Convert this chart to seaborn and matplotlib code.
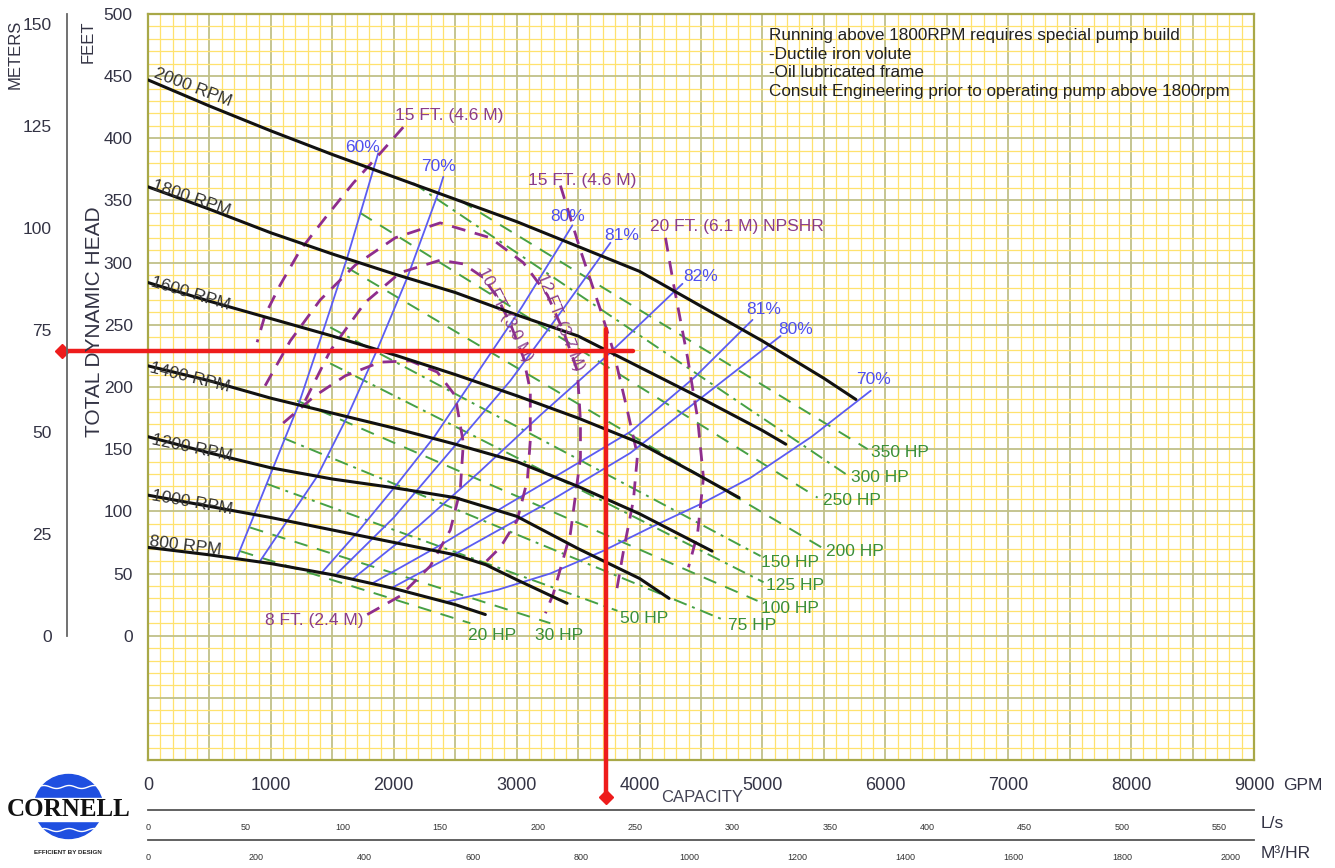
import numpy as np
import seaborn as sns
import matplotlib.pyplot as plt
from matplotlib.patches import Ellipse, Rectangle

# ---- values: flow in GPM, head in feet ----
speed_names = ['2000 RPM', '1800 RPM', '1600 RPM', '1400 RPM', '1200 RPM', '1000 RPM', '800 RPM']
q_2000 = [0, 500, 1000, 1500, 2000, 2500, 3000, 3500, 4000, 4500, 5000, 5500, 5760]
h_2000 = [447, 426, 406, 387, 369, 351, 333, 313, 293, 265, 237, 207, 190]
q_1800 = [0, 500, 1000, 1500, 2000, 2500, 3000, 3500, 4000, 4500, 5000, 5190]
h_1800 = [361, 343, 324, 307, 291, 276, 258, 241, 216, 191, 165, 154]
q_1600 = [0, 500, 1000, 1500, 2000, 2500, 3000, 3500, 4000, 4500, 4810]
h_1600 = [284, 269, 255, 241, 226, 210, 193, 175, 155, 128, 111]
q_1400 = [0, 500, 1000, 1500, 2000, 2500, 3000, 3500, 4000, 4590]
h_1400 = [217, 205, 191, 179, 167, 154, 140, 120, 98, 68]
q_1200 = [0, 500, 1000, 1500, 2000, 2500, 3000, 3500, 4000, 4240]
h_1200 = [160, 147, 135, 126, 119, 111, 96, 70, 46, 30]
q_1000 = [0, 500, 1000, 1500, 2000, 2500, 2750, 3000, 3410]
h_1000 = [113, 104, 95, 85, 75, 65, 57, 45, 26]
q_800 = [0, 500, 1000, 1500, 2000, 2500, 2745]
h_800 = [71, 65, 58, 49, 38, 25, 17]

# efficiency lines
eff_names = ['60%', '70%', '80%', '81%', '82%', '81%', '80%', '70%']
eff60_q = [725, 1018, 1222, 1425, 1621, 1873]
eff60_h = [63, 135, 185, 245, 304, 388]
eff70_q = [912, 1376, 1621, 1865, 2110, 2362, 2403]
eff70_h = [60, 128, 176, 230, 288, 356, 369]
eff80_q = [1417, 1720, 2028, 2330, 2623, 3040, 3453]
eff80_h = [51, 85, 122, 160, 203, 264, 330]
eff81_q = [1539, 2000, 2500, 2948, 3380, 3763]
eff81_h = [50, 95, 153, 205, 263, 316]
eff82_q = [1670, 2200, 2700, 3200, 3700, 4349]
eff82_h = [46, 88, 132, 178, 222, 283]
eff81r_q = [1824, 2400, 2900, 3400, 3926, 4450, 4919]
eff81r_h = [42, 74, 104, 133, 164, 208, 254]
eff80r_q = [1995, 2600, 3200, 3926, 4550, 5147]
eff80r_h = [39, 71, 104, 147, 195, 241]
eff70r_q = [2419, 2850, 3274, 3700, 4089, 4500, 4903, 5400, 5881]
eff70r_h = [27, 37, 50, 68, 87, 106, 127, 160, 197]

# NPSHR curves
npsh8_q = [1100, 1360, 1605, 1890, 2134, 2354, 2500, 2566, 2541, 2460, 2297, 2053, 1767]
npsh8_h = [171, 193, 209, 220, 221, 212, 193, 155, 117, 85, 56, 32, 16]
npsh10_q = [1279, 1482, 1767, 2053, 2378, 2566, 2729, 2843, 2948, 3054, 3111, 3111, 3087, 3005, 2867, 2704]
npsh10_h = [189, 229, 268, 292, 302, 299, 288, 272, 251, 224, 197, 157, 125, 93, 71, 55]
npsh12_q = [953, 1157, 1401, 1686, 2012, 2378, 2786, 3054, 3250, 3380, 3494, 3519, 3519, 3437, 3299, 3234]
npsh12_h = [201, 237, 270, 298, 320, 332, 320, 300, 274, 245, 213, 173, 143, 82, 34, 18]
npsh15a_q = [2077, 1890, 1670, 1442, 1238, 1075, 953, 888]
npsh15a_h = [409, 388, 364, 336, 310, 282, 258, 236]
npsh15b_q = [3356, 3519, 3682, 3787, 3901, 3983, 3950, 3869, 3804]
npsh15b_h = [362, 310, 262, 229, 181, 145, 109, 68, 31]
npsh20_q = [4211, 4276, 4390, 4472, 4520, 4472, 4398]
npsh20_h = [320, 283, 224, 175, 127, 82, 55]

# horsepower lines (start and end of each)
hp_names = ['20 HP', '30 HP', '50 HP', '75 HP', '100 HP', '125 HP', '150 HP',
            '200 HP', '250 HP', '300 HP', '350 HP']
hp_q0 = [749, 831, 969, 1100, 1214, 1482, 1482, 1621, 1727, 2158, 2541]
hp_h0 = [68, 87, 122, 159, 189, 219, 248, 296, 340, 364, 350]
hp_q1 = [2623, 3274, 3820, 4700, 4960, 5009, 4985, 5498, 5449, 5693, 5856]
hp_h1 = [10, 10, 20, 12, 28, 43, 64, 70, 111, 129, 150]

# duty point marked in red
duty_q = 3730
duty_h = 229

W, H = 1335, 868


def fx(px):
    return px / W


def fy(py):
    return 1 - py / H


sns.set_style('white')
plt.rcParams['font.family'] = ['Liberation Sans', 'DejaVu Sans']

fig = plt.figure(figsize=(W / 100, H / 100), dpi=100)
ax = fig.add_axes([fx(148), fy(760), (1254 - 148) / W, (760 - 14) / H])
ax.set_xlim(0, 9000)
ax.set_ylim(-100, 500)

# yellow graph paper
yellow = '#ffe26e'
olive = '#c0c088'
for q in range(100, 9000, 100):
    major = q % 500 == 0
    ax.axvline(q, color=olive if major else yellow, lw=1.3 if major else 0.9, zorder=0)
for hh in range(-90, 500, 10):
    major = hh % 50 == 0
    ax.axhline(hh, color=olive if major else yellow, lw=1.3 if major else 0.9, zorder=0)

for sp in ax.spines.values():
    sp.set_color('#a8a848')
    sp.set_linewidth(1.6)

ax.set_xticks(range(0, 9001, 1000))
ax.set_yticks(range(0, 501, 50))
ax.tick_params(axis='x', direction='out', length=7, width=1.3, color='#555555',
               labelsize=13, labelcolor='#333344', pad=5)
ax.tick_params(axis='y', direction='out', length=5, width=1.3, color='#555555',
               labelsize=12.5, labelcolor='#333344', pad=6)

# speed curves
speed_q = [q_2000, q_1800, q_1600, q_1400, q_1200, q_1000, q_800]
speed_h = [h_2000, h_1800, h_1600, h_1400, h_1200, h_1000, h_800]
for q, h in zip(speed_q, speed_h):
    sns.lineplot(x=q, y=h, ax=ax, color='#111111', lw=2.2, sort=False,
                 estimator=None, legend=False, zorder=6)

speed_lab = [(366, 441, -21), (350, 352, -19), (342, 275, -17), (342, 208, -14),
             (358, 151, -12), (358, 107, -10), (301, 72, -7)]
for name, (lq, lh, rot) in zip(speed_names, speed_lab):
    ax.text(lq, lh, name, fontsize=12.5, color='#333333', rotation=rot,
            ha='center', va='center', rotation_mode='anchor', zorder=8)

# efficiency lines
eff_q = [eff60_q, eff70_q, eff80_q, eff81_q, eff82_q, eff81r_q, eff80r_q, eff70r_q]
eff_h = [eff60_h, eff70_h, eff80_h, eff81_h, eff82_h, eff81r_h, eff80r_h, eff70r_h]
for q, h in zip(eff_q, eff_h):
    sns.lineplot(x=q, y=h, ax=ax, color='#5c5cf2', lw=1.3, sort=False,
                 estimator=None, legend=False, zorder=4)

eff_lab = [(1743, 393), (2362, 377), (3413, 337), (3853, 322), (4496, 289),
           (5009, 262), (5270, 246), (5905, 206)]
for name, (lq, lh) in zip(eff_names, eff_lab):
    ax.text(lq, lh, name, fontsize=12.5, color='#4f4fee', ha='center', va='center', zorder=8)

# horsepower lines
hp_styles = ['--', '--', '-.', '-.', '--', '-.', '-.', '--', '--', '-.', '--']
for q0, h0, q1, h1, ls in zip(hp_q0, hp_h0, hp_q1, hp_h1, hp_styles):
    dash = (0, (7, 5)) if ls == '--' else (0, (7, 3, 1.5, 3))
    sns.lineplot(x=[q0, q1], y=[h0, h1], ax=ax, color='#46a046', lw=1.4,
                 linestyle=dash, sort=False, estimator=None, legend=False, zorder=3)

hp_lab = [(2606, 0), (3152, 0), (3844, 14), (4716, 8), (4985, 22), (5025, 40),
          (4985, 59), (5514, 68), (5490, 109), (5718, 127), (5881, 147)]
for name, (lq, lh) in zip(hp_names, hp_lab):
    ax.text(lq, lh, name, fontsize=12.5, color='#3a8f3a', ha='left', va='center', zorder=8)

# NPSHR curves
npsh_q = [npsh8_q, npsh10_q, npsh12_q, npsh15a_q, npsh15b_q, npsh20_q]
npsh_h = [npsh8_h, npsh10_h, npsh12_h, npsh15a_h, npsh15b_h, npsh20_h]
for q, h in zip(npsh_q, npsh_h):
    sns.lineplot(x=q, y=h, ax=ax, color='#8e2d8e', lw=2.0, linestyle=(0, (5, 3.5)),
                 sort=False, estimator=None, legend=False, zorder=5)

purple = '#8a3c8a'
ax.text(2012, 418, '15 FT. (4.6 M)', fontsize=12.5, color=purple, ha='left', va='center', zorder=8)
ax.text(3095, 366, '15 FT. (4.6 M)', fontsize=12.5, color=purple, ha='left', va='center', zorder=8)
ax.text(4089, 329, '20 FT. (6.1 M) NPSHR', fontsize=12.5, color=purple, ha='left', va='center', zorder=8)
ax.text(953, 12, '8 FT. (2.4 M)', fontsize=12.5, color=purple, ha='left', va='center', zorder=8)
ax.text(2908, 258, '10 FT. (3.0 M)', fontsize=12, color=purple, rotation=-63,
        ha='center', va='center', rotation_mode='anchor', zorder=8)
ax.text(3356, 252, '12 FT. (3.7 M)', fontsize=12, color=purple, rotation=-68,
        ha='center', va='center', rotation_mode='anchor', zorder=8)

# note
ax.text(5050, 489, 'Running above 1800RPM requires special pump build\n'
        '-Ductile iron volute\n-Oil lubricated frame\n'
        'Consult Engineering prior to operating pump above 1800rpm',
        fontsize=12.3, color='#222222', ha='left', va='top', linespacing=1.32, zorder=8)

# red duty point lines
red = '#ee1c1c'
ax.plot([-700, 3950], [duty_h, duty_h], color=red, lw=3.2, clip_on=False, zorder=12)
ax.plot([duty_q, duty_q], [247, -130], color=red, lw=3.2, clip_on=False, zorder=12)
ax.plot([-700], [duty_h], marker='D', ms=7, color=red, clip_on=False, zorder=12)
ax.plot([duty_q], [-130], marker='D', ms=7, color=red, clip_on=False, zorder=12)

# meters scale
axm = fig.add_axes([fx(67), fy(760), 0.0005, (760 - 14) / H])
axm.set_ylim(-100 * 0.3048, 500 * 0.3048)
axm.set_xticks([])
axm.set_yticks(range(0, 151, 25))
axm.patch.set_visible(False)
for s in ['right', 'top', 'bottom']:
    axm.spines[s].set_visible(False)
axm.spines['left'].set_bounds(0, 500 * 0.3048)
axm.spines['left'].set_color('#666666')
axm.spines['left'].set_linewidth(1.3)
axm.tick_params(axis='y', direction='out', length=6, width=1.3, color='#666666',
                labelsize=12.5, labelcolor='#333344', pad=5)

# L/s and m3/hr scales under the GPM axis
for ypix, top, step, unit in [(810, 9000 * 0.0630902, 50, 'L/s'),
                              (840, 9000 * 0.22712, 200, 'M³/HR')]:
    a2 = fig.add_axes([fx(148), fy(ypix), (1254 - 148) / W, 0.0001])
    a2.set_xlim(0, top)
    ticks = list(range(0, int(top) + 1, step))
    a2.set_xticks(ticks)
    a2.set_yticks([])
    a2.patch.set_visible(False)
    for s in ['left', 'right', 'top']:
        a2.spines[s].set_visible(False)
    a2.spines['bottom'].set_color('#555555')
    a2.spines['bottom'].set_linewidth(1.3)
    a2.tick_params(axis='x', direction='in', length=6, width=1.3, color='#555555',
                   labelsize=6.5, labelcolor='#333333', pad=9)
    fig.text(fx(1261), fy(ypix + 13), unit, fontsize=12.5, color='#333344', ha='left', va='center')

fig.text(fx(1283), fy(785), 'GPM', fontsize=12.5, color='#333344', ha='left', va='center')
fig.text(fx(702), fy(797), 'CAPACITY', fontsize=12, color='#444455', ha='center', va='center')
fig.text(fx(88), fy(42), 'FEET', fontsize=12, color='#333344', rotation=90, ha='center', va='center')
fig.text(fx(15), fy(54), 'METERS', fontsize=12, color='#333344', rotation=90, ha='center', va='center')
fig.text(fx(95), fy(322), 'TOTAL DYNAMIC HEAD', fontsize=15, color='#333344', rotation=90,
         ha='center', va='center')

# Cornell logo
blue = '#1f4fe0'
fig.add_artist(Ellipse((fx(68.5), fy(806.5)), 68 / W, 64 / H, transform=fig.transFigure,
                       color=blue, zorder=1))
fig.add_artist(Rectangle((fx(30), fy(821)), 80 / W, 23 / H, transform=fig.transFigure,
                         color='white', zorder=2))
wx = np.linspace(38, 99, 60)
for base in [787, 830]:
    fig.add_artist(plt.Line2D(fx(wx), fy(base + 1.5 * np.sin(wx / 4)), transform=fig.transFigure,
                              color='white', lw=1, zorder=3))
fig.text(fx(69), fy(810), 'CORNELL', family='Liberation Serif', fontsize=18, fontweight='bold',
         color='#111111', ha='center', va='center', zorder=4)
fig.text(fx(68), fy(852), 'EFFICIENT BY DESIGN', fontsize=4.5, fontweight='bold',
         color='#222222', ha='center', va='center')

fig.savefig('out.png', dpi=100)
